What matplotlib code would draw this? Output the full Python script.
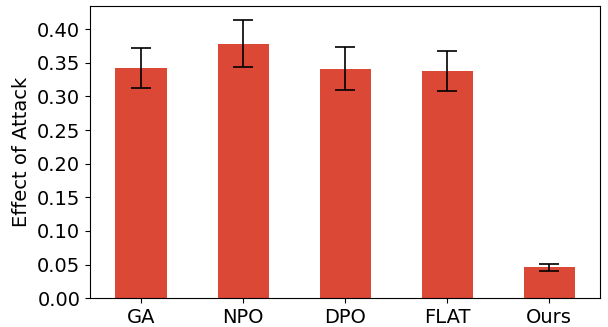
import matplotlib
matplotlib.use("Agg")
import matplotlib.pyplot as plt
import numpy as np

methods = ["GA", "NPO", "DPO", "FLAT", "Ours"]
effect = [0.342, 0.378, 0.341, 0.338, 0.046]
errors = [0.030, 0.035, 0.032, 0.030, 0.0055]

fig = plt.figure(figsize=(6.08, 3.27), dpi=100)
ax = fig.add_axes([0.148, 0.088, 0.839, 0.893])
x = np.arange(len(methods))
ax.bar(x, effect, width=0.5, color="#db4936", yerr=errors, capsize=7,
       error_kw=dict(ecolor="black", elinewidth=1.2, capthick=1.2))
ax.set_xticks(x)
ax.set_xticklabels(methods, fontsize=14)
ax.set_xlim(-0.5, len(methods) - 0.5)
ax.set_ylim(0, 0.434)
ax.set_yticks(np.arange(0, 0.41, 0.05))
ax.set_yticklabels([f"{v:.2f}" for v in np.arange(0, 0.41, 0.05)], fontsize=14)
ax.set_ylabel("Effect of Attack", fontsize=14)
fig.savefig("out.png", dpi=100)
